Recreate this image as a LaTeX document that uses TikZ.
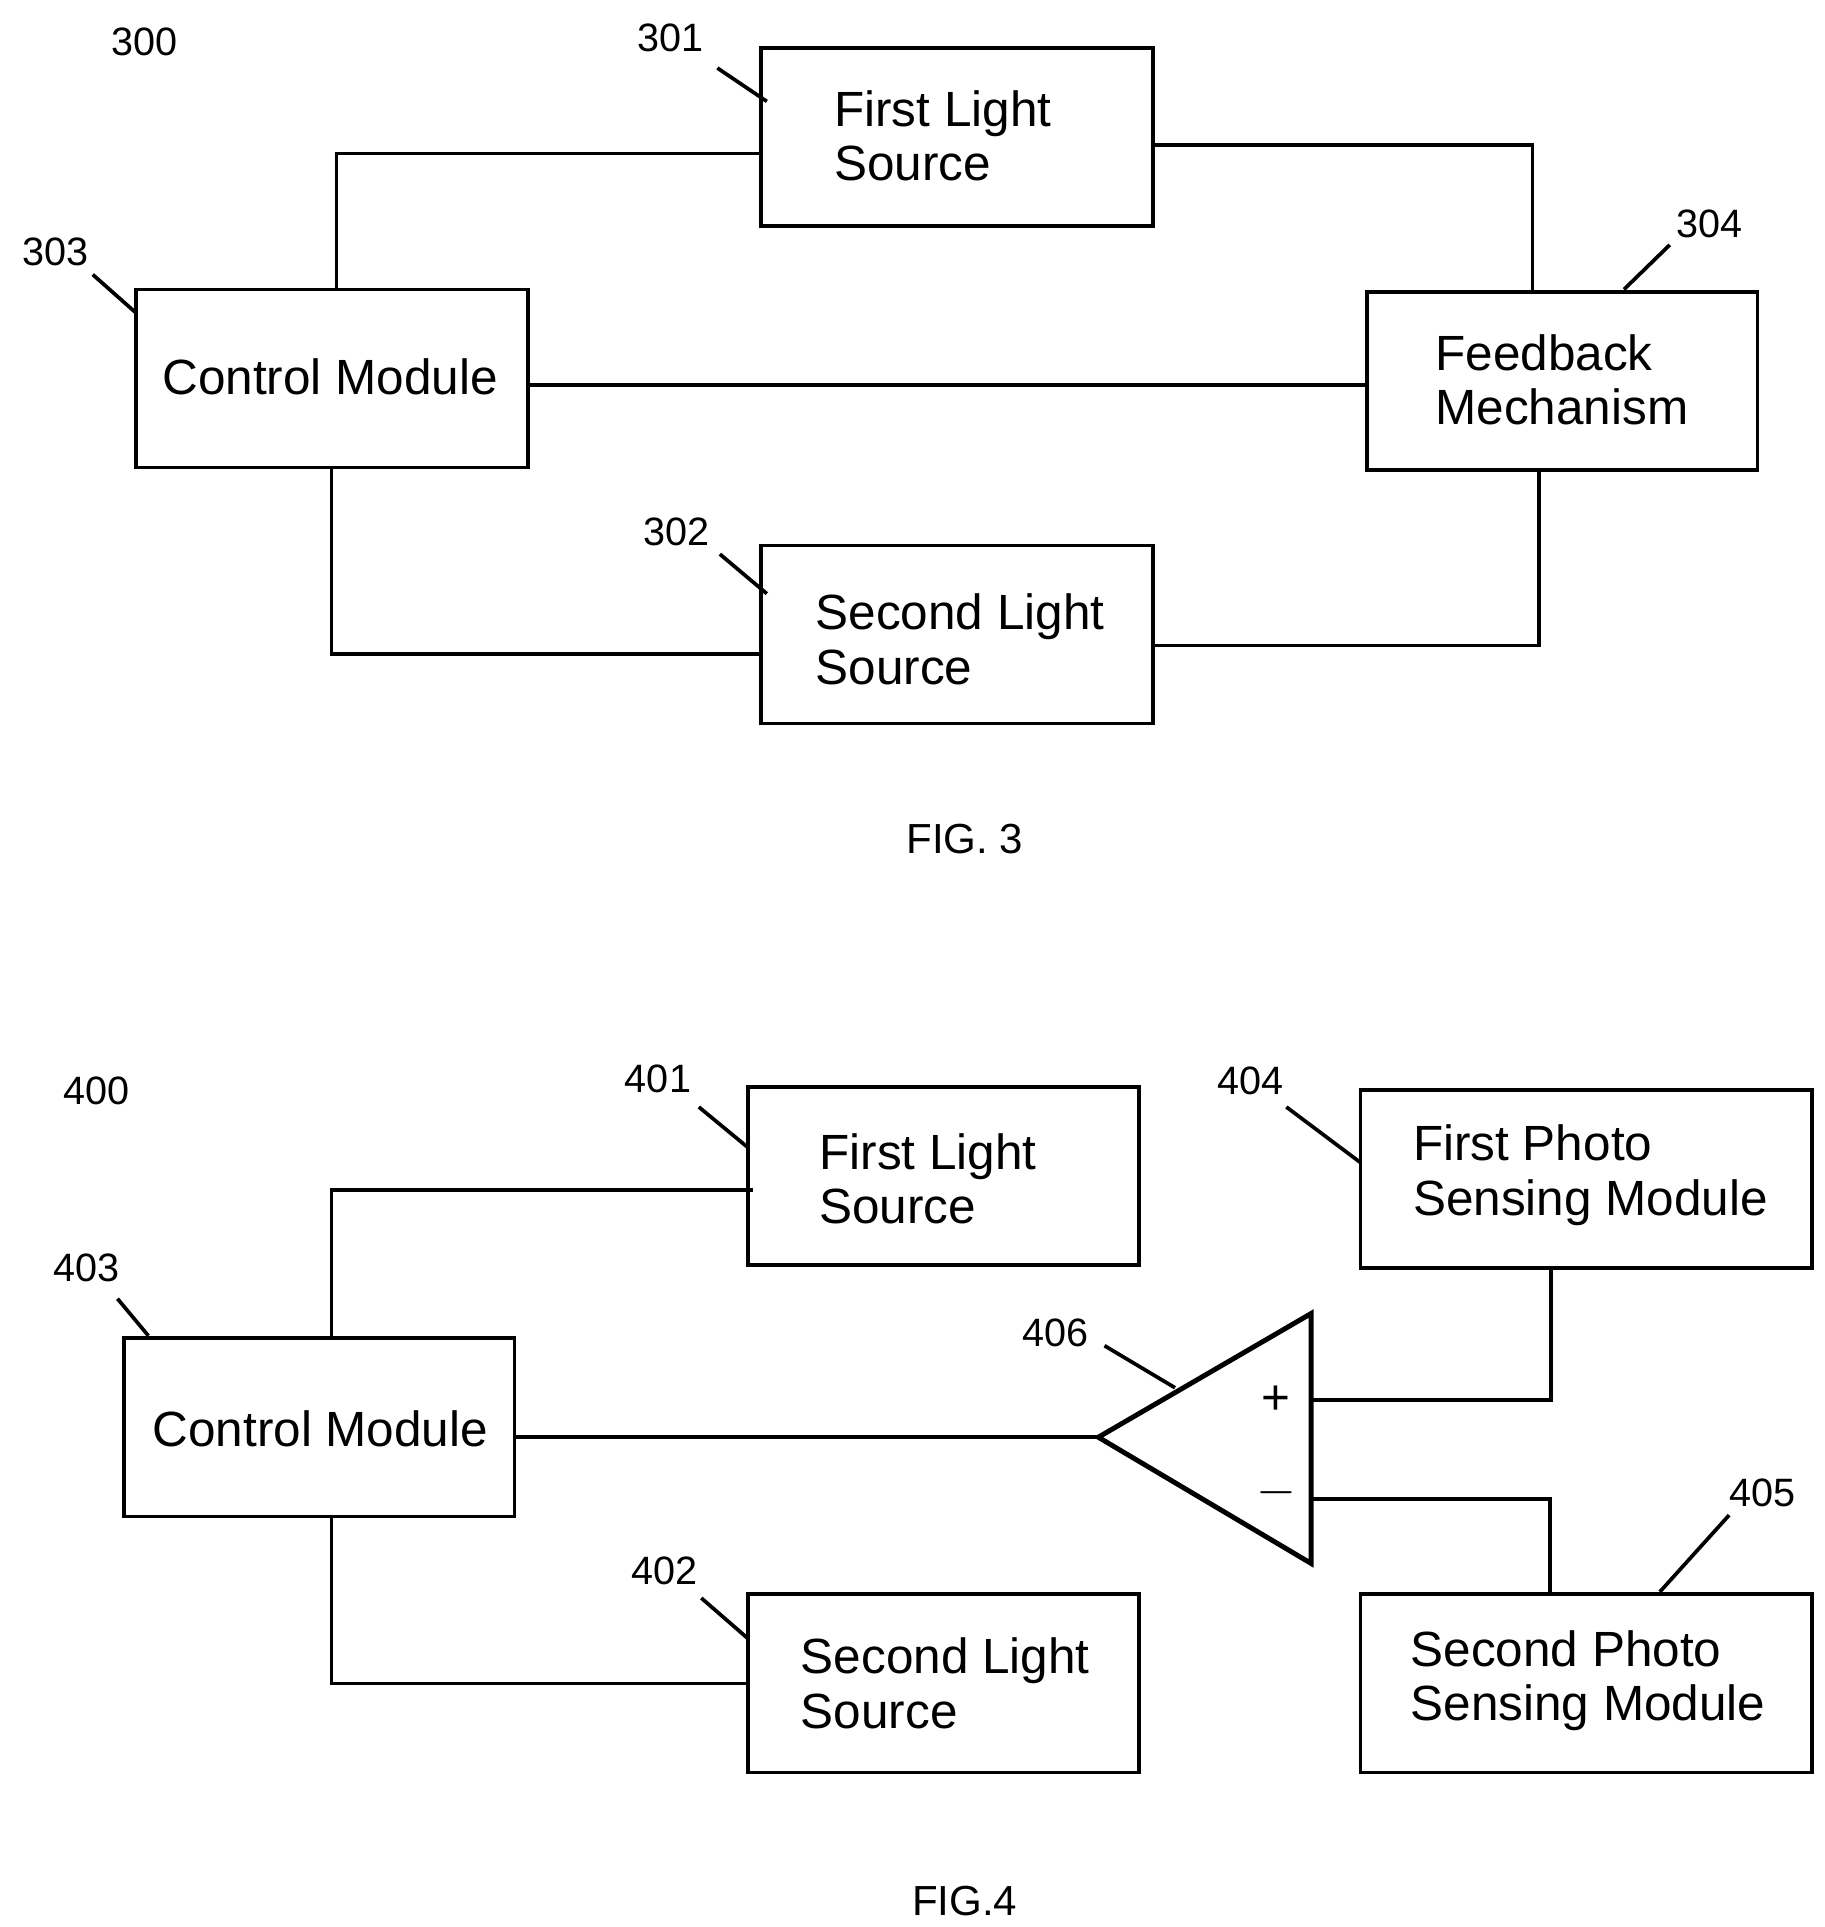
\documentclass[tikz,border=0pt]{standalone}
\usepackage{fontspec}
\setmainfont{Liberation Sans}
\begin{document}
\begin{tikzpicture}[x=0.5pt,y=-0.5pt,line width=1.5pt,
 box/.style={draw,rectangle,line width=1.5pt},
 txt/.style={anchor=west,align=left,font=\fontsize{20}{22}\selectfont,inner sep=0pt},
 lab/.style={font=\fontsize{16}{18}\selectfont,inner sep=0pt},
 lead/.style={line width=1.5pt}]
\useasboundingbox (0,0) rectangle (1475,1558);
% FIG 3
\node[box,minimum width=158.5pt,minimum height=72pt] (b301) at (773.5,111) {};
\node[txt] at (673,110) {First Light\\Source};
\node[box,minimum width=158.5pt,minimum height=72pt] (b303) at (268.5,306) {};
\node[font=\fontsize{20}{22}\selectfont] at (267,305) {Control Module};
\node[box,minimum width=158pt,minimum height=72pt] (b304) at (1263,308) {};
\node[txt] at (1159,307) {Feedback\\Mechanism};
\node[box,minimum width=158.5pt,minimum height=72pt] (b302) at (773.5,513) {};
\node[txt] at (658,517) {Second Light\\Source};
\draw (272,234) -- (272,124) -- (615,124);
\draw (932,117) -- (1239,117) -- (1239,236);
\draw (427,311) -- (1105,311);
\draw (268,378) -- (268,529) -- (615,529);
\draw (932,522) -- (1244,522) -- (1244,380);
\node[lab] (l300) at (117,34) {300};
\node[lab] (l301) at (542,31) {301};
\node[lab] (l303) at (45,204) {303};
\node[lab] (l304) at (1382,181) {304};
\node[lab] (l302) at (547,430) {302};
\draw[lead] (580,55) -- (620,82);
\draw[lead] (75,222) -- (110,253);
\draw[lead] (1350,198) -- (1313,234);
\draw[lead] (582,448) -- (620,480);
\node[font=\fontsize{17}{19}\selectfont] (f3) at (780,678) {FIG. 3};
% FIG 4
\node[box,minimum width=158pt,minimum height=72pt] (b401) at (763,951) {};
\node[txt] at (661,953) {First Light\\Source};
\node[box,minimum width=182.5pt,minimum height=72pt] (b404) at (1282.5,953) {};
\node[txt] at (1141,950) {First Photo\\Sensing Module};
\node[box,minimum width=158pt,minimum height=72pt] (b403) at (258,1154) {};
\node[font=\fontsize{20}{22}\selectfont] at (259,1155) {Control Module};
\node[box,minimum width=158pt,minimum height=72pt] (b402) at (763,1361) {};
\node[txt] at (646,1361) {Second Light\\Source};
\node[box,minimum width=182.5pt,minimum height=72pt] (b405) at (1282.5,1361) {};
\node[txt] at (1139,1359) {Second Photo\\Sensing Module};
\draw[line width=2pt,line join=miter] (888,1162) -- (1060,1062) -- (1060,1264) -- cycle;
\node[font=\fontsize{20}{22}\selectfont] at (1032,1132) {+};
\node[font=\fontsize{20}{22}\selectfont] at (1032,1207) {$-$};
\draw (268,1082) -- (268,962) -- (609,962);
\draw (416,1162) -- (888,1162);
\draw (268,1226) -- (268,1361) -- (605,1361);
\draw (1254,1025) -- (1254,1132) -- (1060,1132);
\draw (1253,1289) -- (1253,1212) -- (1060,1212);
\node[lab] (l400) at (78,882) {400};
\node[lab] (l401) at (532,872) {401};
\node[lab] (l404) at (1011,874) {404};
\node[lab] (l403) at (70,1025) {403};
\node[lab] (l406) at (853,1078) {406};
\node[lab] (l402) at (537,1270) {402};
\node[lab] (l405) at (1425,1207) {405};
\draw[lead] (565,895) -- (605,928);
\draw[lead] (1040,895) -- (1100,940);
\draw[lead] (95,1050) -- (120,1080);
\draw[lead] (893,1088) -- (950,1122);
\draw[lead] (1398,1225) -- (1342,1287);
\draw[lead] (567,1292) -- (605,1325);
\node[font=\fontsize{17}{19}\selectfont] (f4) at (780,1537) {FIG.4};
\end{tikzpicture}
\end{document}
